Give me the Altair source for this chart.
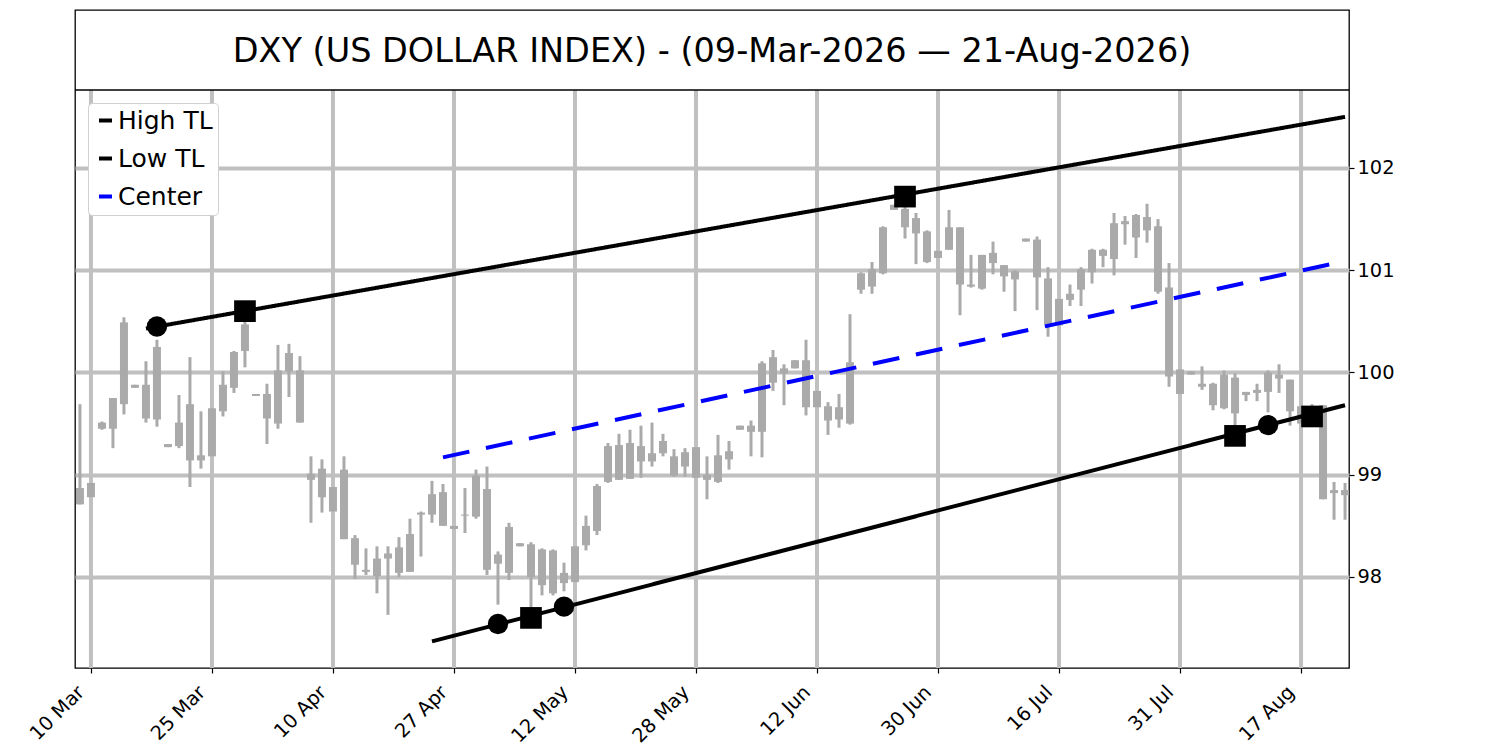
import altair as alt
import pandas as pd

# ---------------- data ----------------
opens = [98.87, 98.78, 99.45, 99.45, 99.69, 99.88, 99.88, 99.54, 99.30, 99.28,
         99.69, 99.14, 99.18, 99.62, 99.85, 100.21, 99.79, 99.79, 99.50, 100.01,
         100.02, 99.01, 99.06, 98.88, 99.05, 98.38, 98.07, 98.01, 98.18, 98.04,
         98.05, 98.61, 98.61, 98.83, 98.50, 98.60, 98.59, 98.86, 98.22, 98.04,
         98.33, 98.32, 98.27, 98.26, 97.94, 97.95, 98.31, 98.45, 98.93, 98.95,
         98.96, 99.28, 99.13, 99.21, 99.18, 99.08, 99.27, 98.95, 98.93, 99.15,
         99.44, 99.48, 99.42, 99.90, 100.04, 100.04, 100.12, 99.82, 99.67, 99.54,
         99.50, 100.81, 100.84, 100.97, 101.59, 101.60, 101.51, 101.38, 101.12, 101.20,
         101.42, 100.86, 100.82, 101.17, 101.05, 100.99, 101.28, 101.30, 100.92, 100.46,
         100.71, 100.81, 100.98, 101.14, 101.11, 101.48, 101.32, 101.52, 101.43, 100.83,
         100.03, 99.98, 99.89, 99.89, 99.65, 99.95, 99.78, 99.80, 99.81, 99.98,
         99.93, 99.67, 99.66, 99.68, 98.82, 98.85]
highs = [99.69, 98.95, 99.52, 99.75, 100.54, 99.88, 100.11, 100.32, 99.30, 99.78,
         100.15, 99.62, 99.66, 100.01, 100.21, 100.58, 99.79, 99.89, 100.27, 100.28,
         100.16, 99.18, 99.15, 99.02, 99.18, 98.41, 98.28, 98.30, 98.30, 98.39,
         98.57, 98.64, 98.94, 98.91, 98.50, 98.87, 99.05, 99.08, 98.25, 98.53,
         98.33, 98.34, 98.28, 98.27, 98.14, 98.46, 98.60, 98.91, 99.31, 99.40,
         99.44, 99.48, 99.51, 99.40, 99.25, 99.26, 99.54, 99.18, 99.39, 99.33,
         99.48, 99.53, 100.11, 100.22, 100.08, 100.12, 100.32, 99.91, 99.71, 99.79,
         100.57, 100.98, 101.08, 101.43, 101.64, 101.72, 101.56, 101.39, 101.43, 101.59,
         101.42, 101.15, 101.15, 101.28, 101.05, 101.00, 101.31, 101.33, 101.03, 100.83,
         100.86, 101.03, 101.21, 101.21, 101.56, 101.53, 101.55, 101.65, 101.50, 101.07,
         100.46, 100.01, 100.06, 99.90, 100.02, 99.99, 99.81, 99.89, 100.02, 100.08,
         99.93, 99.68, 99.69, 99.68, 98.93, 98.92]
lows = [98.71, 98.49, 99.44, 99.26, 99.59, 99.85, 99.51, 99.47, 99.27, 99.26,
        98.88, 99.06, 99.07, 99.57, 99.80, 100.05, 99.77, 99.30, 99.45, 99.76,
        99.51, 98.53, 98.63, 98.54, 98.37, 97.98, 98.02, 97.84, 97.63, 98.00,
        98.05, 98.20, 98.53, 98.50, 98.43, 98.43, 98.57, 98.02, 97.73, 97.97,
        98.30, 97.69, 97.82, 97.82, 97.86, 97.95, 98.26, 98.41, 98.92, 98.95,
        98.96, 98.97, 99.08, 99.18, 98.98, 98.98, 98.96, 98.76, 98.92, 99.05,
        99.44, 99.18, 99.17, 99.82, 99.68, 100.04, 99.58, 99.65, 99.39, 99.46,
        99.49, 100.77, 100.77, 100.96, 101.59, 101.31, 101.06, 101.07, 100.96, 101.20,
        100.56, 100.83, 100.81, 100.96, 100.79, 100.60, 101.28, 100.61, 100.35, 100.36,
        100.65, 100.65, 100.87, 101.03, 100.95, 101.25, 101.12, 101.27, 100.77, 99.86,
        99.70, 99.98, 99.83, 99.63, 99.64, 99.47, 99.72, 99.72, 99.61, 99.80,
        99.48, 99.29, 99.50, 98.76, 98.56, 98.56]
closes = [98.71, 98.92, 99.51, 99.75, 100.49, 99.85, 99.55, 100.25, 99.27, 99.51,
          99.14, 99.19, 99.65, 99.88, 100.20, 100.47, 99.77, 99.55, 100.02, 100.19,
          99.51, 98.95, 98.78, 98.64, 98.37, 98.12, 98.05, 98.18, 98.23, 98.29,
          98.42, 98.63, 98.81, 98.50, 98.47, 98.61, 98.99, 98.07, 98.13, 98.49,
          98.30, 98.00, 97.92, 97.84, 98.04, 98.30, 98.50, 98.89, 99.28, 99.29,
          99.31, 99.13, 99.21, 99.33, 98.99, 99.22, 98.97, 99.00, 99.19, 99.23,
          99.48, 99.42, 100.09, 100.15, 99.99, 100.12, 99.66, 99.66, 99.53, 99.66,
          100.10, 100.97, 101.01, 101.42, 101.64, 101.42, 101.36, 101.08, 101.19, 101.42,
          100.86, 100.84, 101.15, 101.07, 100.94, 100.91, 101.31, 100.93, 100.47, 100.72,
          100.77, 101.01, 101.20, 101.20, 101.46, 101.45, 101.54, 101.39, 100.79, 99.96,
          99.79, 100.01, 99.86, 99.68, 99.98, 99.60, 99.81, 99.83, 100.00, 99.94,
          99.62, 99.50, 99.60, 98.76, 98.85, 98.80]

# x axis: trading-day number and the dates shown at the ticks
tick_pos = [1, 12, 23, 34, 45, 56, 67, 78, 89, 100, 111]
tick_labels = ["10 Mar", "25 Mar", "10 Apr", "27 Apr", "12 May", "28 May",
               "12 Jun", "30 Jun", "16 Jul", "31 Jul", "17 Aug"]
y_ticks = [98, 99, 100, 101, 102]

# trend lines (start / end trading day and value)
tl_names = ["High TL", "Low TL", "Center"]
tl_x0 = [6, 32, 33]
tl_y0 = [100.43, 97.37, 99.17]
tl_x1 = [115, 115, 115]
tl_y1 = [102.50, 99.68, 101.09]

# pivot markers
circle_x = [7, 38, 44, 108]
circle_y = [100.45, 97.54, 97.71, 99.485]
square_x = [15, 41, 75, 105, 112]
square_y = [100.60, 97.60, 101.72, 99.38, 99.57]

title_text = "DXY (US DOLLAR INDEX) - (09-Mar-2026 \u2014 21-Aug-2026)"

# ---------------- build the chart ----------------
W, H = 1274, 658
FONT = "DejaVu Sans"
CANDLE = "#aaaaaa"
GRID = "#c0c0c0"
TICK_FS = 19.4

candles = pd.DataFrame({
    "idx": list(range(len(opens))),
    "open": opens, "high": highs, "low": lows, "close": closes,
})
grid_df = pd.DataFrame({"idx": tick_pos})
tl_rows = []
for n, a, b, c, d in zip(tl_names, tl_x0, tl_y0, tl_x1, tl_y1):
    tl_rows.append({"name": n, "idx": a, "val": b})
    tl_rows.append({"name": n, "idx": c, "val": d})
tl_df = pd.DataFrame(tl_rows)
circ_df = pd.DataFrame({"idx": circle_x, "val": circle_y})
sq_df = pd.DataFrame({"idx": square_x, "val": square_y})
one = pd.DataFrame({"t": [title_text]})

x_scale = alt.Scale(domain=[-0.45, 115.36], nice=False, zero=False, padding=0)
y_scale = alt.Scale(domain=[97.11, 103.545], nice=False, zero=False, padding=0)

label_expr = " : ".join(
    f"datum.value == {p} ? '{l}'" for p, l in zip(tick_pos, tick_labels)
) + " : ''"

x_axis = alt.Axis(values=tick_pos, labelExpr=label_expr, labelAngle=315,
                  labelAlign="right", labelBaseline="alphabetic",
                  labelPadding=20, labelOffset=-6,
                  labelFontSize=TICK_FS, labelFont=FONT, labelColor="black",
                  tickSize=5, tickWidth=1.2, tickColor="black", grid=False,
                  domain=False, labelOverlap=False, labelFlush=False,
                  labelBound=False, title=None)
y_axis = alt.Axis(orient="right", values=y_ticks, format="d", tickSize=5,
                  tickWidth=1.2, tickColor="black", labelFontSize=TICK_FS,
                  labelFont=FONT, labelColor="black", labelPadding=3,
                  grid=True, gridColor=GRID, gridWidth=4, domain=False,
                  title=None)


def X(field="idx"):
    return alt.X(f"{field}:Q", scale=x_scale, title=None)


def Y(field):
    return alt.Y(f"{field}:Q", scale=y_scale, title=None)


vgrid = alt.Chart(grid_df).mark_rule(color=GRID, strokeWidth=4).encode(
    x=X(), y=alt.value(80), y2=alt.value(H),
)

wicks = alt.Chart(candles).mark_rule(color=CANDLE, strokeWidth=3).encode(
    x=alt.X("idx:Q", scale=x_scale, axis=x_axis),
    y=alt.Y("low:Q", scale=y_scale, axis=y_axis),
    y2="high:Q",
)
bodies = alt.Chart(candles).mark_bar(color=CANDLE, size=8).encode(
    x=X(), y=Y("open"), y2="close:Q",
)

lines = alt.Chart(tl_df).mark_line(strokeWidth=4).encode(
    x=X(), y=Y("val"),
    color=alt.Color("name:N", title=None,
                    scale=alt.Scale(domain=tl_names, range=["black", "black", "blue"]),
                    legend=alt.Legend(orient="none", legendX=13, legendY=93,
                                      symbolType="stroke", symbolSize=169,
                                      symbolStrokeWidth=4,
                                      labelFontSize=25, labelFont=FONT,
                                      labelColor="black", padding=5,
                                      rowPadding=12, labelOffset=0,
                                      fillColor="white", strokeColor="#d0d0d0",
                                      cornerRadius=4)),
    strokeDash=alt.StrokeDash("name:N", title=None,
                              scale=alt.Scale(domain=tl_names,
                                              range=[[1, 0], [1, 0], [27, 17]])),
)

circles = alt.Chart(circ_df).mark_point(shape="circle", filled=True, size=415,
                                        color="black", opacity=1).encode(
    x=X(), y=Y("val"),
)
squares = alt.Chart(sq_df).mark_point(shape="square", filled=True, size=470,
                                      color="black", opacity=1).encode(
    x=X(), y=Y("val"),
)

sep = alt.Chart(one).mark_rule(color="black", strokeWidth=1.3).encode(
    x=alt.value(0), x2=alt.value(W), y=alt.value(80),
)
title = alt.Chart(one).mark_text(font=FONT, fontSize=33.5, color="black",
                                 align="center", baseline="middle").encode(
    x=alt.value(W / 2), y=alt.value(42), text="t:N",
)

chart = alt.layer(wicks, vgrid, bodies, lines, circles, squares, sep, title).properties(
    width=W, height=H,
    autosize=alt.AutoSizeParams(type="none"),
    padding={"left": 67, "top": 2, "right": 70, "bottom": 80},
).configure_view(stroke="black", strokeWidth=1.3)

chart.save("out.html", embed_options={"renderer": "svg", "actions": False})
